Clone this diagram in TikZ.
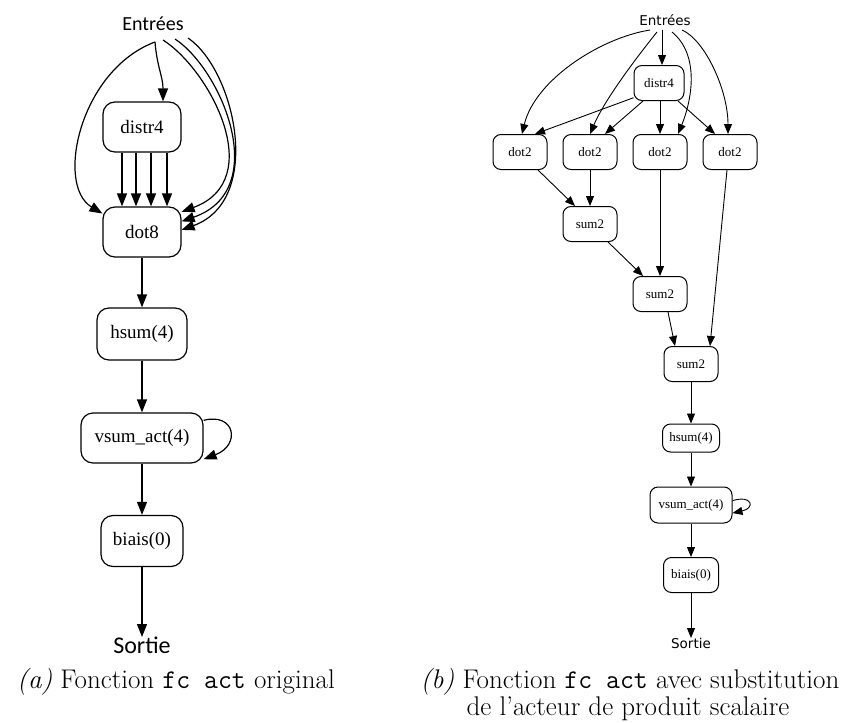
\documentclass[tikz,border=0pt]{standalone}
\usepackage{fontspec}
\newfontfamily\gvserif{Liberation Serif}
\newfontfamily\gvsans{Carlito}
\newfontfamily\gvsansii{DejaVu Sans}
\usetikzlibrary{arrows.meta}
\begin{document}
\begin{tikzpicture}[x=1pt,y=-1pt,
  box/.style={draw,rounded corners=12pt,line width=1.2pt,minimum width=78pt,minimum height=50pt,inner sep=0pt,font=\gvserif\fontsize{19}{19}\selectfont},
  boxii/.style={draw,rounded corners=8pt,line width=1pt,minimum width=54pt,minimum height=35pt,inner sep=0pt,font=\gvserif\fontsize{13}{13}\selectfont},
  link/.style={line width=1.2pt,-{Triangle[length=13pt,width=10pt]}},
  linkii/.style={line width=0.9pt,-{Triangle[length=10pt,width=8pt]}},
  caption/.style={anchor=base,font=\fontsize{27}{27}\selectfont}]
\useasboundingbox (0,0) rectangle (844,723);
% (a) original
\node[anchor=base,inner sep=0pt,font=\gvsans\fontsize{20}{20}\selectfont] (inL) at (153,30) {Entrées};
\node[box] (distrL) at (142,127) {distr4};
\node[box] (dotL) at (142,232) {dot8};
\node[box,minimum width=90pt,minimum height=52pt] (hsumL) at (142,334) {hsum(4)};
\node[box,minimum width=122pt] (vsumL) at (142,438) {vsum\_act(4)};
\node[box,minimum width=82pt,minimum height=51pt] (biasL) at (142,541) {biais(0)};
\node[anchor=north,inner sep=0pt,font=\gvsans\fontsize{24}{24}\selectfont] (outL) at (142,637) {Sortie};
\draw[link] ([shift={(2,12)}]inL.base) .. controls +(2,25) and +(0,-25) .. ([xshift=21pt]distrL.north);
\draw[link] ([shift={(2,12)}]inL.base) .. controls (80,70) and (55,185) .. (dotL.155);
\draw[link] ([shift={(10,10)}]inL.base) .. controls (210,70) and (268,180) .. (dotL.27);
\draw[link] ([shift={(22,9)}]inL.base) .. controls (222,70) and (272,190) .. (dotL.15);
\draw[link] ([shift={(35,8)}]inL.base) .. controls (235,70) and (264,200) .. (dotL.3);
\foreach \dx in {-20,-6,9,25}
  \draw[link] ([xshift=\dx pt]distrL.south) -- ([xshift=\dx pt]distrL.south |- dotL.north);
\draw[link] (dotL) -- (hsumL);
\draw[link] (hsumL) -- (vsumL);
\draw[link] (vsumL.16) .. controls +(32,-8) and +(37,-14) .. (vsumL.-19);
\draw[link] (vsumL) -- (biasL);
\draw[link] (biasL) -- (outL);
% (b) substitution
\node[anchor=base,inner sep=0pt,font=\gvsansii\fontsize{13.5}{13.5}\selectfont] (inR) at (665,25) {Entrées};
\node[boxii,minimum width=50pt] (distrR) at (659,83) {distr4};
\node[boxii] (dotA) at (520,152) {dot2};
\node[boxii] (dotB) at (590,152) {dot2};
\node[boxii] (dotC) at (660,152) {dot2};
\node[boxii] (dotD) at (730,152) {dot2};
\node[boxii] (sumA) at (590,224) {sum2};
\node[boxii] (sumB) at (660,294) {sum2};
\node[boxii] (sumC) at (691,364) {sum2};
\node[boxii,minimum width=57pt,minimum height=28pt] (hsumR) at (691,438) {hsum(4)};
\node[boxii,minimum width=82pt,minimum height=36pt] (vsumR) at (691,505) {vsum\_act(4)};
\node[boxii,minimum width=55pt] (biasR) at (691,575) {biais(0)};
\node[anchor=north,inner sep=0pt,font=\gvsansii\fontsize{13.5}{13.5}\selectfont] (outR) at (691,638) {Sortie};
\draw[linkii] ([shift={(-15,5)}]inR.base) .. controls +(-50,8) and +(13,-54) .. ([xshift=2pt]dotA.north);
\draw[linkii] ([shift={(-8,7)}]inR.base) .. controls +(-20,25) and +(15,-35) .. (dotB.north);
\draw[linkii] ([shift={(-3,5)}]inR.base) -- ([xshift=3pt]distrR.north);
\draw[linkii] ([shift={(7,7)}]inR.base) .. controls (700,55) and (692,100) .. ([xshift=18pt]dotC.north);
\draw[linkii] ([shift={(17,5)}]inR.base) .. controls (705,40) and (728,90) .. ([xshift=-2pt]dotD.north);
\draw[linkii] (distrR.210) -- ([xshift=15pt]dotA.north);
\draw[linkii] ([xshift=-16pt]distrR.south) -- ([xshift=15pt]dotB.north);
\draw[linkii] (dotC.north |- distrR.south) -- (dotC.north);
\draw[linkii] ([xshift=19pt]distrR.south) -- ([xshift=-15pt]dotD.north);
\draw[linkii] ([xshift=18pt]dotA.south) -- ([xshift=-15pt]sumA.north);
\draw[linkii] (dotB) -- (sumA);
\draw[linkii] ([xshift=18pt]sumA.south) -- ([xshift=-17pt]sumB.north);
\draw[linkii] (dotC) -- (sumB);
\draw[linkii] ([xshift=8pt]sumB.south) -- ([xshift=-16pt]sumC.north);
\draw[linkii] ([xshift=-3pt]dotD.south) -- ([xshift=19pt]sumC.north);
\draw[linkii] (sumC) -- (hsumR);
\draw[linkii] (hsumR) -- (vsumR);
\draw[linkii] (vsumR.6) .. controls +(20,-6) and +(23,-5) .. (vsumR.-11);
\draw[linkii] (vsumR) -- (biasR);
\draw[linkii] (biasR) -- (outR);
% captions
\node[caption] (capA) at (176,688) {\textit{(a)} Fonction \texttt{fc act} original};
\node[caption] (capB) at (630,688) {\textit{(b)} Fonction \texttt{fc act} avec substitution};
\node[caption] (capBii) at (628,715) {de l'acteur de produit scalaire};
\end{tikzpicture}
\end{document}
